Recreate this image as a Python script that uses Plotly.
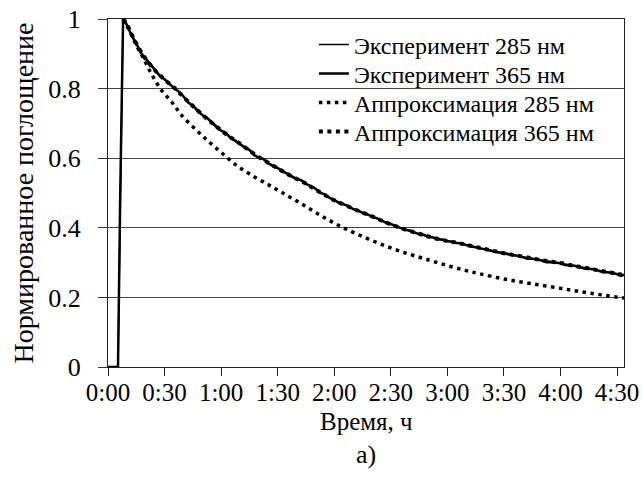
import plotly.graph_objects as go

# ---- data (time in minutes, normalized absorbance) ----
tick_minutes = [0, 30, 60, 90, 120, 150, 180, 210, 240, 270]
tick_labels = ["0:00", "0:30", "1:00", "1:30", "2:00", "2:30", "3:00", "3:30", "4:00", "4:30"]
y_ticks = [0, 0.2, 0.4, 0.6, 0.8, 1]
y_tick_labels = ["0", "0.2", "0.4", "0.6", "0.8", "1"]

exp_t = [0, 2, 4, 5.3, 6.5, 8, 10, 12.5, 15, 17.5, 20, 22.5, 25, 27.5, 30, 32.5, 35, 37.5, 40,
         42.5, 45, 47.5, 50, 52.5, 55, 57.5, 60, 62.5, 65, 67.5, 70, 72.5, 75, 77.5, 80,
         82.5, 85, 87.5, 90, 92.5, 95, 97.5, 100, 102.5, 105, 107.5, 110, 112.5, 115, 117.5,
         120, 122.5, 125, 127.5, 130, 132.5, 135, 137.5, 140, 142.5, 145, 147.5, 150, 152.5,
         155, 157.5, 160, 162.5, 165, 167.5, 170, 172.5, 175, 177.5, 180, 182.5, 185, 187.5,
         190, 192.5, 195, 197.5, 200, 202.5, 205, 207.5, 210, 212.5, 215, 217.5, 220, 222.5,
         225, 227.5, 230, 232.5, 235, 237.5, 240, 242.5, 245, 247.5, 250, 252.5, 255, 257.5,
         260, 262.5, 265, 267.5, 270, 272, 273.7]

exp285 = [0, 0, 0, 0, 0.45, 1.0, 0.982, 0.955, 0.928, 0.905, 0.884, 0.872, 0.851, 0.840, 0.826,
          0.812, 0.803, 0.790, 0.776, 0.763, 0.750, 0.733, 0.725, 0.714, 0.702, 0.688, 0.680,
          0.671, 0.660, 0.648, 0.642, 0.634, 0.622, 0.607, 0.603, 0.596, 0.587, 0.575, 0.571,
          0.566, 0.555, 0.550, 0.541, 0.534, 0.527, 0.518, 0.512, 0.503, 0.495, 0.489, 0.479,
          0.474, 0.467, 0.460, 0.455, 0.448, 0.444, 0.437, 0.433, 0.426, 0.421, 0.417, 0.410,
          0.403, 0.400, 0.396, 0.391, 0.384, 0.383, 0.378, 0.375, 0.370, 0.368, 0.364, 0.362,
          0.358, 0.357, 0.352, 0.351, 0.349, 0.345, 0.340, 0.339, 0.337, 0.333, 0.328, 0.327,
          0.326, 0.322, 0.318, 0.317, 0.314, 0.312, 0.308, 0.307, 0.305, 0.303, 0.298, 0.299,
          0.296, 0.293, 0.289, 0.288, 0.286, 0.283, 0.279, 0.278, 0.276, 0.273, 0.269, 0.268,
          0.266, 0.264]

exp365 = [0, 0, 0, 0, 0.50, 1.0, 0.984, 0.952, 0.930, 0.902, 0.886, 0.868, 0.853, 0.836, 0.827,
          0.815, 0.801, 0.792, 0.778, 0.760, 0.751, 0.738, 0.724, 0.716, 0.703, 0.690, 0.679,
          0.673, 0.658, 0.651, 0.641, 0.630, 0.624, 0.610, 0.601, 0.598, 0.585, 0.578, 0.572,
          0.562, 0.556, 0.547, 0.540, 0.537, 0.526, 0.520, 0.513, 0.500, 0.496, 0.486, 0.480,
          0.471, 0.468, 0.462, 0.454, 0.450, 0.443, 0.439, 0.432, 0.428, 0.422, 0.414, 0.411,
          0.405, 0.399, 0.394, 0.392, 0.387, 0.382, 0.380, 0.374, 0.372, 0.367, 0.366, 0.361,
          0.360, 0.356, 0.355, 0.350, 0.346, 0.344, 0.342, 0.338, 0.335, 0.332, 0.330, 0.326,
          0.323, 0.321, 0.320, 0.316, 0.311, 0.311, 0.310, 0.306, 0.301, 0.302, 0.300, 0.298,
          0.293, 0.292, 0.291, 0.287, 0.283, 0.282, 0.281, 0.277, 0.272, 0.272, 0.270, 0.267,
          0.262, 0.265]

fit_t = [8, 10, 12.5, 15, 20, 25, 30, 35, 40, 45, 50, 55, 60, 65, 70, 75, 80, 85, 90, 95, 100,
         105, 110, 115, 120, 125, 130, 135, 140, 145, 150, 155, 160, 165, 170, 175, 180, 185,
         190, 195, 200, 205, 210, 215, 220, 225, 230, 235, 240, 245, 250, 255, 260, 265, 270,
         273.7]
fit365 = [1.0, 0.985, 0.956, 0.93, 0.885, 0.852, 0.826, 0.803, 0.776, 0.75, 0.725, 0.702,
          0.68, 0.66, 0.642, 0.622, 0.603, 0.587, 0.571, 0.555, 0.541, 0.527, 0.51, 0.494,
          0.479, 0.467, 0.455, 0.444, 0.433, 0.421, 0.41, 0.40, 0.391, 0.383, 0.375, 0.368,
          0.362, 0.357, 0.351, 0.345, 0.339, 0.333, 0.327, 0.322, 0.317, 0.312, 0.307, 0.303,
          0.299, 0.293, 0.288, 0.283, 0.278, 0.273, 0.268, 0.264]

fit285_t = [8, 10, 12, 15, 19, 23, 28, 34, 39, 47, 54, 61, 68, 75, 84, 92, 102, 112, 123, 135,
            148, 160, 171, 181, 190, 197, 210, 224, 240, 256, 273.7]
fit285 = [1.0, 0.98, 0.96, 0.925, 0.885, 0.843, 0.798, 0.76, 0.724, 0.68, 0.645, 0.612, 0.58,
          0.555, 0.527, 0.502, 0.471, 0.438, 0.405, 0.375, 0.346, 0.324, 0.306, 0.29, 0.277,
          0.268, 0.253, 0.24, 0.226, 0.212, 0.198]

FONT = '"Liberation Serif", "Times New Roman", serif'

PLOT_TOP = 19      # pixel row of y=1
PLOT_H = 348       # plot area height

fig = go.Figure()
fig.add_trace(go.Scatter(x=exp_t, y=exp285, mode="lines", name="Эксперимент 285 нм",
                         legend="legend",
                         line=dict(color="black", width=1.5)))
fig.add_trace(go.Scatter(x=exp_t, y=exp365, mode="lines", name="Эксперимент 365 нм",
                         legend="legend2",
                         line=dict(color="black", width=2.5)))
fig.add_trace(go.Scatter(x=fit285_t, y=fit285, mode="lines", name="Аппроксимация 285 нм",
                         legend="legend3",
                         line=dict(color="black", width=3.5, dash="3.5px,4.5px", shape="spline")))
fig.add_trace(go.Scatter(x=fit_t, y=fit365, mode="lines", name="Аппроксимация 365 нм",
                         legend="legend4",
                         line=dict(color="black", width=4, dash="4px,4.5px", shape="spline")))

def paper_y(ypix):
    return (PLOT_TOP + PLOT_H - ypix) / PLOT_H

def legend_box(ypix):
    return dict(x=0.399, y=paper_y(ypix), xanchor="left", yanchor="middle",
                bgcolor="rgba(0,0,0,0)", borderwidth=0,
                font=dict(family=FONT, size=24, color="black"),
                itemwidth=30)

fig.update_layout(
    template="none",
    width=643, height=477,
    margin=dict(l=108, r=19, t=19, b=110, autoexpand=False),
    paper_bgcolor="white", plot_bgcolor="white",
    font=dict(family=FONT, size=24, color="black"),
    showlegend=True,
    legend=legend_box(45),
    legend2=legend_box(74),
    legend3=legend_box(103),
    legend4=legend_box(132),
    annotations=[
        dict(text="Время, ч", x=0.5, y=paper_y(421), xref="paper", yref="paper",
             xanchor="center", yanchor="middle", showarrow=False,
             font=dict(family=FONT, size=25, color="black")),
        dict(text="а)", x=0.5, y=paper_y(455), xref="paper", yref="paper",
             xanchor="center", yanchor="middle", showarrow=False,
             font=dict(family=FONT, size=26, color="black")),
    ],
)

fig.update_xaxes(
    automargin=False,
    range=[0, 273.7], tickmode="array", tickvals=tick_minutes, ticktext=tick_labels,
    ticks="outside", ticklen=8, tickwidth=1.3, tickcolor="#222",
    ticklabelstandoff=-5, ticklabeloverflow="allow",
    showline=True, linecolor="#222", linewidth=1.3, mirror=True,
    showgrid=False, zeroline=False,
    tickfont=dict(family=FONT, size=25),
)
fig.update_yaxes(
    automargin=False,
    range=[0, 1], tickmode="array", tickvals=y_ticks, ticktext=y_tick_labels,
    ticks="outside", ticklen=9, tickwidth=1.3, tickcolor="#333",
    ticklabelstandoff=12, ticklabeloverflow="allow",
    showline=True, linecolor="#222", linewidth=1.3, mirror=True,
    showgrid=True, gridcolor="#444", gridwidth=1.3, zeroline=False,
    tickfont=dict(family=FONT, size=26),
    title=dict(text="Нормированное поглощение", font=dict(family=FONT, size=28), standoff=6),
)

# remove the browser's default 8px page margin so the figure sits at the top-left corner
fig.write_html("out.html", config={"displayModeBar": False},
               post_script="document.body.style.margin='0px';")
